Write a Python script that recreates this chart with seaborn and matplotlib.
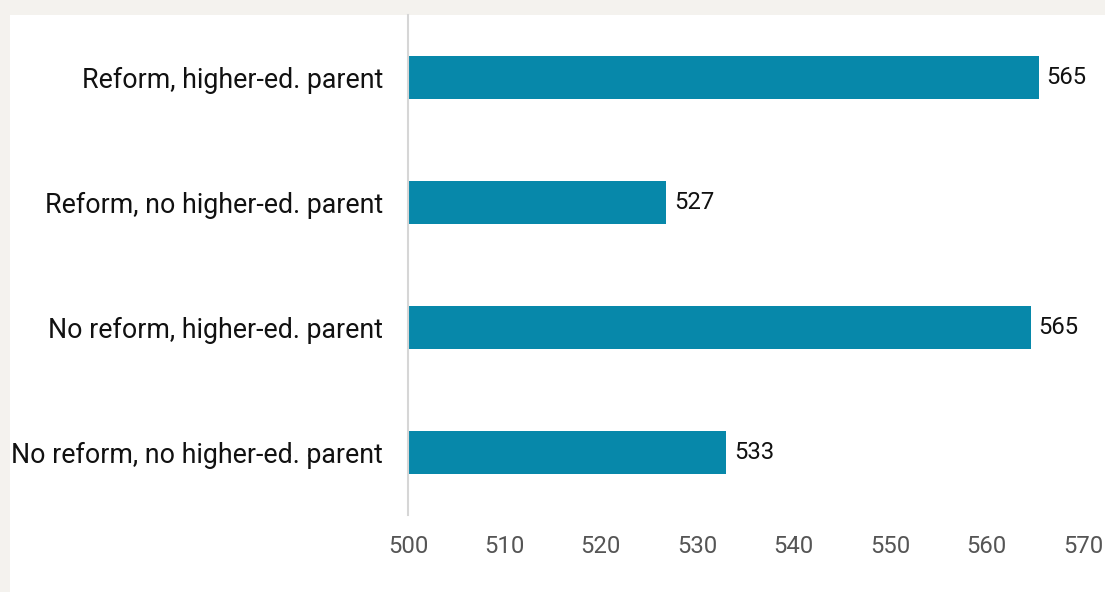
import matplotlib
matplotlib.use("Agg")
import matplotlib.pyplot as plt
import seaborn as sns
import pandas as pd
from matplotlib.patches import Rectangle

categories = [
    "Reform, higher-ed. parent",
    "Reform, no higher-ed. parent",
    "No reform, higher-ed. parent",
    "No reform, no higher-ed. parent",
]
scores = [565.4, 526.8, 564.6, 533.0]
value_labels = ["565", "527", "565", "533"]
xticks = [500, 510, 520, 530, 540, 550, 560, 570]

sns.set_theme(style="white")
plt.rcParams["font.family"] = ["Roboto", "DejaVu Sans"]

df = pd.DataFrame({"cat": categories, "score": scores})

W, H = 1105, 592
fig = plt.figure(figsize=(W / 100, H / 100), dpi=100)
fig.patch.set_facecolor("#f4f2ee")
fig.patches.append(Rectangle((10 / W, 0), 1, (H - 15) / H, transform=fig.transFigure,
                             facecolor="white", edgecolor="none", zorder=-5))

ax = fig.add_axes([408 / W, (H - 515) / H, (1083 - 408) / W, 500 / H])
ax.set_zorder(2)
ax.set_facecolor("white")
ax.patch.set_alpha(0)

sns.barplot(data=df, x="score", y="cat", color="#0788aa", width=0.35,
            saturation=1, ax=ax, orient="h")

# bars start at 500
for p, v in zip(ax.patches, scores):
    p.set_x(500)
    p.set_width(v - 500)
    p.set_edgecolor("none")

ax.set_xlim(500, 570)
ax.set_ylim(3.5, -0.5)
ax.set_xticks(xticks)
ax.set_xticklabels([str(t) for t in xticks], color="#555555", fontsize=17.2)
ax.tick_params(axis="x", length=0, pad=14.5)
ax.tick_params(axis="y", length=0, pad=18, labelsize=19.25, labelcolor="#111111")
ax.set_xlabel("")
ax.set_ylabel("")

for s in ["top", "right", "bottom"]:
    ax.spines[s].set_visible(False)
ax.spines["left"].set_color("#d6d6d6")
ax.spines["left"].set_linewidth(1.5)

for i, (v, lab) in enumerate(zip(scores, value_labels)):
    ax.annotate(lab, (v, i), xytext=(5.5, 0), textcoords="offset points",
                va="center", ha="left", fontsize=17.2, color="#111111")

fig.savefig("out.png", dpi=100, facecolor=fig.get_facecolor())
